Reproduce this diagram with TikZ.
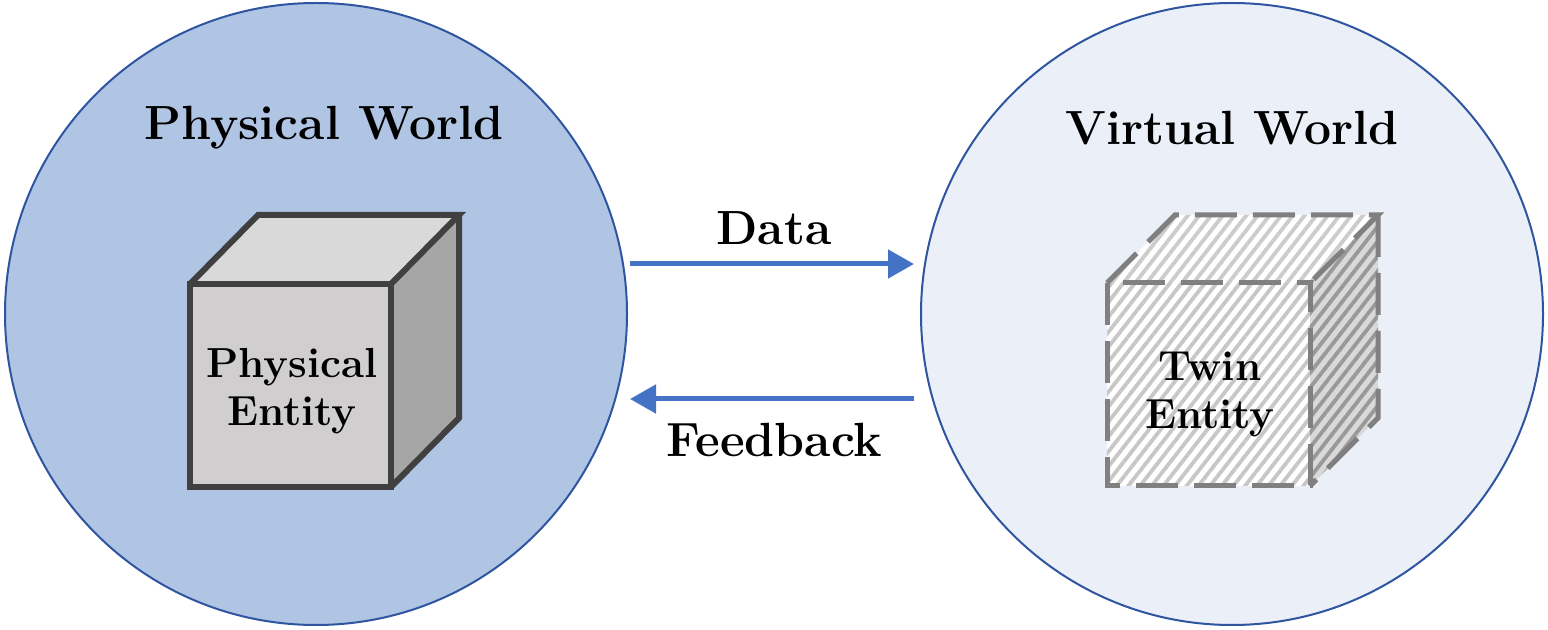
\documentclass[tikz,border=0pt]{standalone}
\usepackage{fontspec}
\usetikzlibrary{arrows.meta,patterns.meta}
\definecolor{pwfill}{HTML}{B0C4E4}
\definecolor{vwfill}{HTML}{EAEFF8}
\definecolor{ring}{HTML}{2F55A0}
\definecolor{arrowblue}{HTML}{4472C4}
\definecolor{cubeedge}{HTML}{404040}
\definecolor{cubefront}{HTML}{D0CECF}
\definecolor{cubetop}{HTML}{D9D9D9}
\definecolor{cubeside}{HTML}{A6A6A6}
\definecolor{twinedge}{HTML}{808080}
\tikzset{
  world/.style={circle, draw=ring, line width=1pt, minimum size=311pt, inner sep=0pt},
  worldlabel/.style={font=\fontsize{24}{28}\selectfont\bfseries, inner sep=0pt},
  flowlabel/.style={font=\fontsize{24}{28}\selectfont\bfseries, inner sep=0pt},
  entitylabel/.style={font=\fontsize{21}{24}\selectfont\bfseries, align=center, inner sep=0pt},
  flow/.style={draw=arrowblue, line width=2.5pt, -{Triangle[length=13pt,width=14pt]}},
  solidcube/.style={draw=cubeedge, line width=3pt, line join=miter},
  twincube/.style={draw=twinedge, line width=2.5pt, dash pattern=on 21pt off 8pt, line join=miter},
  hatch/.style={pattern={Lines[angle=52,distance=4.6pt,line width=1.9pt]}, pattern color=#1},
}
\begin{document}
\begin{tikzpicture}[x=0.5pt,y=-0.5pt]
\useasboundingbox (0,0) rectangle (1548,630);
% worlds
\node[world, fill=pwfill] (pw) at (316,314) {};
\node[world, fill=vwfill] (vw) at (1232,314) {};
\node[worldlabel] (pwl) at (324,128) {Physical World};
\node[worldlabel] (vwl) at (1232,128) {Virtual World};
% physical cube
\fill[cubefront] (190,284) rectangle (391,487);
\fill[cubetop] (190,284) -- (258,215) -- (459,215) -- (391,284) -- cycle;
\fill[cubeside] (391,284) -- (459,215) -- (459,418) -- (391,487) -- cycle;
\draw[solidcube] (190,284) rectangle (391,487);
\draw[solidcube] (190,284) -- (258,215) -- (459,215) -- (391,284);
\draw[solidcube] (459,215) -- (459,418) -- (391,487);
\node[entitylabel] (pe) at (292,391) {Physical\\Entity};
% twin cube
\fill[white] (1107,283) rectangle (1310,486);
\fill[hatch=black!22] (1107,283) rectangle (1310,486);
\fill[white] (1107,283) -- (1175,215) -- (1378,215) -- (1310,283) -- cycle;
\fill[hatch=black!20] (1107,283) -- (1175,215) -- (1378,215) -- (1310,283) -- cycle;
\fill[black!15] (1310,283) -- (1378,215) -- (1378,418) -- (1310,486) -- cycle;
\fill[hatch=black!40] (1310,283) -- (1378,215) -- (1378,418) -- (1310,486) -- cycle;
\draw[twincube] (1107,283) rectangle (1310,486);
\draw[twincube] (1107,283) -- (1175,215) -- (1378,215) -- (1310,283);
\draw[twincube] (1378,215) -- (1378,418) -- (1310,486);
\node[entitylabel] (te) at (1210,394) {Twin\\Entity};
% flows
\coordinate (d1) at (630,264);
\coordinate (d2) at (914,264);
\coordinate (f1) at (914,399);
\coordinate (f2) at (630,399);
\draw[flow] (d1) -- (d2);
\draw[flow] (f1) -- (f2);
\node[flowlabel] (dl) at (774,228) {Data};
\node[flowlabel] (fl) at (774,440) {Feedback};
\end{tikzpicture}
\end{document}
